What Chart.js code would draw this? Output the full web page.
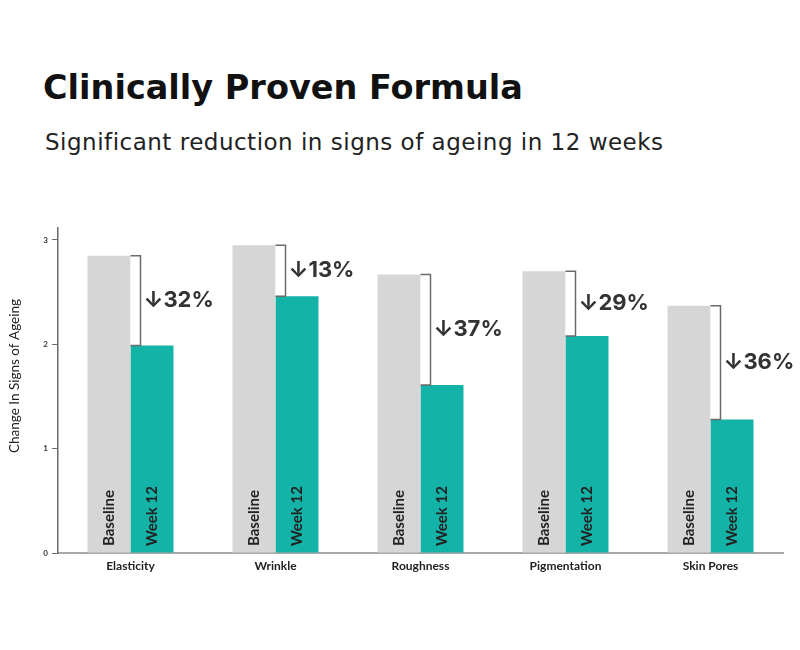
<!DOCTYPE html>
<html>
<head>
<meta charset="utf-8">
<title>Clinically Proven Formula</title>
<script src="https://cdn.jsdelivr.net/npm/chart.js@4.4.1/dist/chart.umd.min.js"></script>
<style>
    html, body { margin: 0; padding: 0; background: #ffffff; }
    .wrap { position: relative; width: 800px; height: 650px; }
    .title {
        position: absolute; left: 43px; top: 71px; margin: 0; white-space: nowrap;
        font: 700 33.5px/33px "DejaVu Sans", sans-serif; color: #111;
    }
    .subtitle {
        position: absolute; left: 45px; top: 131px; margin: 0; white-space: nowrap;
        font: 400 23px/22px "DejaVu Sans", sans-serif; color: #222;
        letter-spacing: 0.5px;
    }
    canvas { position: absolute; left: 0; top: 0; }
</style>
</head>
<body>
<div class="wrap">
    <h1 class="title">Clinically Proven Formula</h1>
    <p class="subtitle">Significant reduction in signs of ageing in 12 weeks</p>
    <canvas id="chart" width="800" height="650"></canvas>
</div>
<script>
// =============================================================================
// DATA
// =============================================================================

const categories = ['Elasticity', 'Wrinkle', 'Roughness', 'Pigmentation', 'Skin Pores'];
const baselineValues = [2.85, 2.95, 2.67, 2.70, 2.37];
const week12Values = [1.99, 2.46, 1.61, 2.08, 1.28];
const reductionLabels = ['32%', '13%', '37%', '29%', '36%'];
const seriesNames = ['Baseline', 'Week 12'];
const yTicks = [0, 1, 2, 3];
const yTitle = 'Change In Signs of Ageing';

// =============================================================================
// COLORS
// =============================================================================

const colors = {
    baseline: '#d6d6d6',
    week12: '#14b3a8',
    text: '#222222',
    bracket: '#6b6b6b',
    yAxis: '#6b6b6b',
    xAxis: '#a8a8a8'
};

// =============================================================================
// ANNOTATION PLUGIN (bar labels, brackets, y title)
// =============================================================================

const annotationPlugin = {
    id: 'annotations',
    afterDatasetsDraw(chart) {
        const ctx = chart.ctx;
        const base = chart.getDatasetMeta(0).data;
        const week = chart.getDatasetMeta(1).data;
        const y0 = chart.scales.y.getPixelForValue(0);

        ctx.save();

        // rotated series names inside bars
        ctx.fillStyle = colors.text;
        ctx.font = 'bold 15px Lato, "DejaVu Sans", sans-serif';
        ctx.textAlign = 'left';
        ctx.textBaseline = 'middle';
        [base, week].forEach((bars, i) => {
            bars.forEach(bar => {
                ctx.save();
                ctx.translate(bar.x, y0 - 7);
                ctx.rotate(-Math.PI / 2);
                ctx.fillText(seriesNames[i], 0, 0);
                ctx.restore();
            });
        });

        // brackets + reduction labels
        base.forEach((bar, i) => {
            const xr = bar.x + bar.width / 2;
            const yTop = bar.y;
            const yBot = week[i].y;
            const xb = xr + 10;

            ctx.fillStyle = '#ffffff';
            ctx.fillRect(xr, yTop, 10, yBot - yTop);

            ctx.strokeStyle = colors.bracket;
            ctx.lineWidth = 1.5;
            ctx.beginPath();
            ctx.moveTo(xr, yTop);
            ctx.lineTo(xb, yTop);
            ctx.lineTo(xb, yBot);
            ctx.lineTo(xr, yBot);
            ctx.stroke();

            ctx.fillStyle = '#333333';
            ctx.font = '700 22px Inter, "DejaVu Sans", sans-serif';
            ctx.textAlign = 'left';
            ctx.textBaseline = 'middle';
            ctx.fillText('\u2193' + reductionLabels[i], xb + 3, (yTop + yBot) / 2);
        });

        // y axis title
        ctx.fillStyle = colors.text;
        ctx.font = '13.5px Lato, "DejaVu Sans", sans-serif';
        ctx.textAlign = 'center';
        ctx.textBaseline = 'middle';
        ctx.translate(15, 376);
        ctx.rotate(-Math.PI / 2);
        ctx.fillText(yTitle, 0, 0);

        ctx.restore();
    }
};

// =============================================================================
// CHART
// =============================================================================

const ctx = document.getElementById('chart').getContext('2d');

new Chart(ctx, {
    type: 'bar',
    data: {
        labels: categories,
        datasets: [
            {
                label: seriesNames[0],
                data: baselineValues,
                backgroundColor: colors.baseline,
                borderWidth: 0
            },
            {
                label: seriesNames[1],
                data: week12Values,
                backgroundColor: colors.week12,
                borderWidth: 0
            }
        ]
    },
    options: {
        responsive: false,
        animation: false,
        layout: {
            padding: { top: 228, right: 17, bottom: 0, left: 0 }
        },
        datasets: {
            bar: { categoryPercentage: 0.593, barPercentage: 1.0 }
        },
        plugins: {
            legend: { display: false },
            tooltip: { enabled: false }
        },
        scales: {
            x: {
                grid: { display: false, drawTicks: false },
                border: { display: true, color: colors.xAxis, width: 2 },
                ticks: {
                    color: colors.text,
                    padding: 6,
                    font: { family: 'Lato, "DejaVu Sans", sans-serif', size: 12, weight: 'bold' }
                },
                afterFit(scale) { scale.height = 97; }
            },
            y: {
                min: 0,
                max: 3.115,
                afterBuildTicks(scale) {
                    scale.ticks = yTicks.map(v => ({ value: v }));
                },
                grid: {
                    drawOnChartArea: false,
                    drawTicks: true,
                    tickLength: 6,
                    color: colors.yAxis,
                    lineWidth: 1
                },
                border: { display: true, color: colors.yAxis, width: 1.5 },
                ticks: {
                    color: '#333333',
                    padding: 4,
                    font: { family: 'Lato, "DejaVu Sans", sans-serif', size: 8, weight: 'bold' }
                },
                afterFit(scale) { scale.width = 58; }
            }
        }
    },
    plugins: [annotationPlugin]
});
</script>
</body>
</html>
